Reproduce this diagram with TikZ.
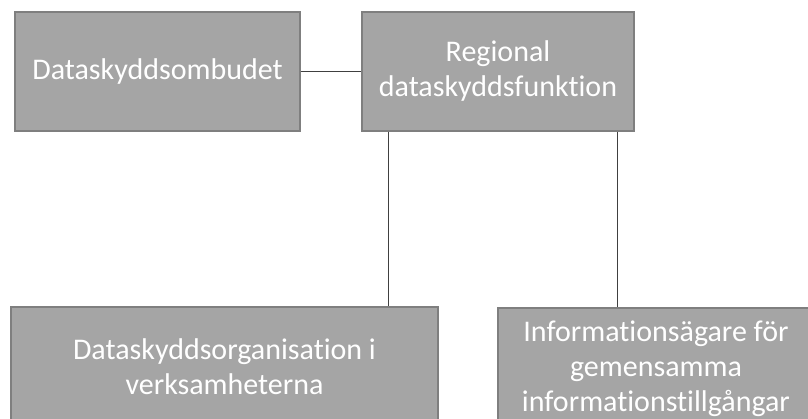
\documentclass[tikz,border=0pt]{standalone}
\usepackage{fontspec}
\setmainfont[Ligatures=NoCommon]{Carlito}
\definecolor{boxfill}{RGB}{165,165,165}
\definecolor{boxborder}{RGB}{127,127,127}
\definecolor{conncol}{RGB}{64,64,64}
\begin{document}
\begin{tikzpicture}[x=1pt,y=-1pt,
  box/.style={draw=boxborder, fill=boxfill, line width=1.1pt, text=white,
    align=center, font=\fontsize{30}{35}\selectfont, inner sep=0pt},
  conn/.style={draw=conncol, line width=0.9pt}]
\useasboundingbox (0,0) rectangle (808,419);
\clip (0,0) rectangle (808,419);
\node[box, minimum width=285pt, minimum height=119pt] (b1) at (157.5,71.5) {Dataskyddsombudet};
\node[box, minimum width=272pt, minimum height=119pt] (b2) at (498,71.5) {Regional\\dataskyddsfunktion};
\node[box, minimum width=427pt, minimum height=120pt] (b3) at (224.5,367) {Dataskyddsorganisation i\\verksamheterna};
\node[box, minimum width=316pt, minimum height=121pt] (b4) at (656,368.5) {Informationsägare för\\gemensamma\\informationstillgångar};
\draw[conn] (b1.east) -- (b2.west);
\draw[conn] ([xshift=27pt]b2.south west) -- ([xshift=27pt]b2.south west |- b3.north);
\draw[conn] ([xshift=-17pt]b2.south east) -- ([xshift=-17pt]b2.south east |- b4.north);
\end{tikzpicture}
\end{document}
